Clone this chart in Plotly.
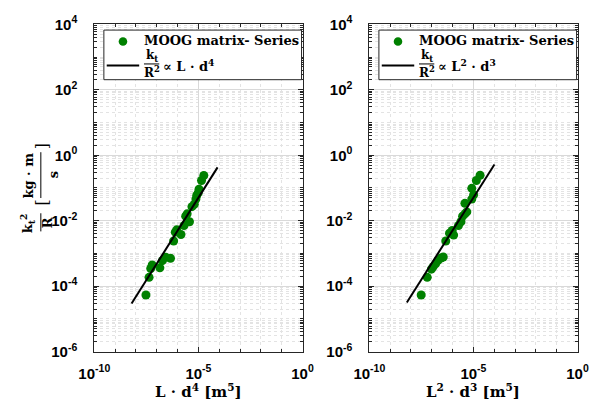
import plotly.graph_objects as go

# ---- data: k_t^2/R versus two geometric groupings (MOOG matrix, series) ----
x_ld4 = [3.02e-8, 4.27e-8, 5.13e-8, 6.03e-8, 1.41e-7, 1.86e-7, 2.69e-7, 4.57e-7,
         6.46e-7, 7.76e-7, 9.12e-7, 1.45e-6, 2.04e-6, 2.45e-6, 2.88e-6, 3.72e-6,
         4.90e-6, 6.31e-6, 7.59e-6, 8.32e-6, 9.77e-6, 1.07e-5, 1.41e-5, 1.82e-5]
y_ld4 = [5.37e-5, 1.86e-4, 3.47e-4, 4.47e-4, 3.63e-4, 6.03e-4, 7.59e-4, 7.08e-4,
         2.40e-3, 4.47e-3, 5.25e-3, 3.80e-3, 7.08e-3, 1.38e-2, 1.62e-2, 9.33e-3,
         2.69e-2, 3.16e-2, 4.57e-2, 5.89e-2, 7.08e-2, 9.12e-2, 0.170, 0.240]
fit_x_ld4 = [6.17e-9, 8.32e-5]
fit_y_ld4 = [2.95e-5, 0.427]

x_l2d3 = [3.09e-8, 6.03e-8, 9.55e-8, 1.15e-7, 1.51e-7, 1.95e-7, 2.75e-7, 3.55e-7,
          4.68e-7, 7.08e-7, 9.55e-7, 1.12e-6, 1.91e-6, 2.51e-6, 3.02e-6, 3.89e-6,
          4.79e-6, 3.89e-6, 8.32e-6, 1.02e-5, 8.32e-6, 1.38e-5, 2.09e-5]
y_l2d3 = [5.37e-5, 1.86e-4, 3.31e-4, 3.89e-4, 4.79e-4, 6.03e-4, 7.24e-4, 7.76e-4,
          2.40e-3, 4.17e-3, 5.01e-3, 3.63e-3, 7.08e-3, 9.33e-3, 1.38e-2, 1.62e-2,
          1.86e-2, 3.39e-2, 4.57e-2, 6.17e-2, 9.77e-2, 0.170, 0.245]
fit_x_l2d3 = [6.31e-9, 1.02e-4]
fit_y_l2d3 = [3.16e-5, 0.525]

x_tick_vals = [1e-10, 1e-5, 1e0]
x_tick_text = ["<b>10<sup>-10</sup></b>", "<b>10<sup>-5</sup></b>", "<b>10<sup>0</sup></b>"]
y_tick_vals = [1e-6, 1e-4, 1e-2, 1e0, 1e2, 1e4]
y_tick_text = ["<b>10<sup>-6</sup></b>", "<b>10<sup>-4</sup></b>", "<b>10<sup>-2</sup></b>",
               "<b>10<sup>0</sup></b>", "<b>10<sup>2</sup></b>", "<b>10<sup>4</sup></b>"]

series_name = "MOOG matrix- Series"

# ---- styling ----
W, H = 600, 414
GREEN = "#008000"
AXC = "#262626"
SERIF = "DejaVu Serif"
SANS = "Liberation Sans"

def px(x):
    return x / W

def py(y):
    return 1 - y / H

# minor ticks: every decade on x, 1..9 x decade on y (majors excluded)
x_minor = [10.0 ** k for k in range(-10, 1) if 10.0 ** k not in x_tick_vals]
y_minor = []
for d in range(-6, 4):
    for m in range(1, 10):
        v = m * 10.0 ** d
        if not (m == 1 and d % 2 == 0):
            y_minor.append(v)

fig = go.Figure()

panels = [
    dict(x=x_ld4, y=y_ld4, fx=fit_x_ld4, fy=fit_y_ld4, xa="x", ya="y"),
    dict(x=x_l2d3, y=y_l2d3, fx=fit_x_l2d3, fy=fit_y_l2d3, xa="x2", ya="y2"),
]
for p in panels:
    fig.add_trace(go.Scatter(x=p["x"], y=p["y"], mode="markers", xaxis=p["xa"], yaxis=p["ya"],
                             marker=dict(color=GREEN, size=9, line=dict(width=0)),
                             name=series_name, showlegend=False))
    fig.add_trace(go.Scatter(x=p["fx"], y=p["fy"], mode="lines", xaxis=p["xa"], yaxis=p["ya"],
                             line=dict(color="black", width=2), showlegend=False))

frame_l = [(82, 300), (370, 588)]
frame_top, frame_bot = 14, 357

TICKFONT = dict(family=SANS, size=15, color="black")

def xaxis_cfg(left, right):
    return dict(type="log", range=[-10, 0], domain=[px(left), px(right)],
                tickmode="array", tickvals=x_tick_vals, ticktext=x_tick_text,
                ticks="inside", ticklen=5, tickcolor=AXC, tickwidth=1,
                tickfont=TICKFONT, ticklabelstandoff=8,
                showline=True, linecolor=AXC, linewidth=1, mirror="ticks",
                showgrid=True, gridcolor="#d9d9d9", gridwidth=1,
                minor=dict(tickmode="array", tickvals=x_minor, ticks="inside", ticklen=3,
                           tickcolor=AXC, showgrid=True, gridcolor="#e3e3e3",
                           griddash="dot", gridwidth=1),
                zeroline=False)

def yaxis_cfg(anchor):
    return dict(type="log", range=[-6, 4], domain=[py(frame_bot), py(frame_top)],
                anchor=anchor,
                tickmode="array", tickvals=y_tick_vals, ticktext=y_tick_text,
                ticks="inside", ticklen=5, tickcolor=AXC, tickwidth=1,
                tickfont=TICKFONT, ticklabelstandoff=13,
                showline=True, linecolor=AXC, linewidth=1, mirror="ticks",
                showgrid=True, gridcolor="#d9d9d9", gridwidth=1,
                minor=dict(tickmode="array", tickvals=y_minor, ticks="inside", ticklen=3,
                           tickcolor=AXC, showgrid=True, gridcolor="#e3e3e3",
                           griddash="dot", gridwidth=1),
                zeroline=False)

fig.update_layout(
    width=W, height=H, autosize=False,
    margin=dict(l=0, r=0, t=0, b=0),
    paper_bgcolor="white", plot_bgcolor="white",
    showlegend=False,
    xaxis=dict(xaxis_cfg(*frame_l[0]), anchor="y"),
    yaxis=yaxis_cfg("x"),
    xaxis2=dict(xaxis_cfg(*frame_l[1]), anchor="y2"),
    yaxis2=yaxis_cfg("x2"),
)

shapes = []
annotations = []

def text(x, y, s, size=13, angle=0, xanchor="center", family=SERIF, weight="bold"):
    annotations.append(dict(x=px(x), y=py(y), xref="paper", yref="paper", text=s,
                            showarrow=False, xanchor=xanchor, yanchor="middle",
                            textangle=angle,
                            font=dict(family=family, size=size, color="black", weight=weight)))

def seg(x0, y0, x1, y1, width=1, color="black"):
    shapes.append(dict(type="line", xref="paper", yref="paper",
                       x0=px(x0), y0=py(y0), x1=px(x1), y1=py(y1),
                       line=dict(color=color, width=width)))

# ---- hand-built legends with fraction labels ----
legend_rhs = ["\u221d L \u00b7 d<sup>4</sup>", "\u221d L<sup>2</sup> \u00b7 d<sup>3</sup>"]
for (left, right), rhs in zip(frame_l, legend_rhs):
    bx0, bx1 = left + 10, right - 1
    shapes.append(dict(type="rect", xref="paper", yref="paper",
                       x0=px(bx0), x1=px(bx1), y0=py(72), y1=py(20),
                       line=dict(color=AXC, width=1), fillcolor="white", layer="above"))
    cx, cy, r = bx0 + 20, 32, 4.5
    shapes.append(dict(type="circle", xref="paper", yref="paper",
                       x0=px(cx - r), x1=px(cx + r), y0=py(cy + r), y1=py(cy - r),
                       line=dict(width=0), fillcolor=GREEN))
    text(bx0 + 40, 31, series_name, xanchor="left")
    seg(bx0 + 3, 57, bx0 + 37, 57, width=2)
    fx = bx0 + 50
    text(fx, 47, "k<sub>t</sub>", size=12)
    seg(fx - 8, 55.5, fx + 8, 55.5, width=1)
    text(fx, 64, "R<sup>2</sup>", size=12)
    text(fx + 10, 57, rhs, xanchor="left")

# ---- axis titles ----
text(191, 398, "L \u00b7 d<sup>4</sup> [m<sup>5</sup>]", size=15)
text(479, 398, "L<sup>2</sup> \u00b7 d<sup>3</sup> [m<sup>5</sup>]", size=15)

# y title:  k_t^2 / R  [ kg·m / s ]  (rotated)
text(12, 222, "k<sub>t</sub><sup>2</sup>", size=13, angle=-90)
seg(26, 212, 26, 231, width=1)
text(33, 222, "R", size=13, angle=-90)
text(28, 201, "[", size=16, angle=-90, weight="normal")
text(13, 172, "kg \u00b7 m", size=13, angle=-90)
seg(26, 148, 26, 196, width=1)
text(39, 172, "s", size=13, angle=-90)
text(28, 142, "]", size=16, angle=-90, weight="normal")

fig.update_layout(shapes=shapes, annotations=annotations)
fig.write_html("out.html")
